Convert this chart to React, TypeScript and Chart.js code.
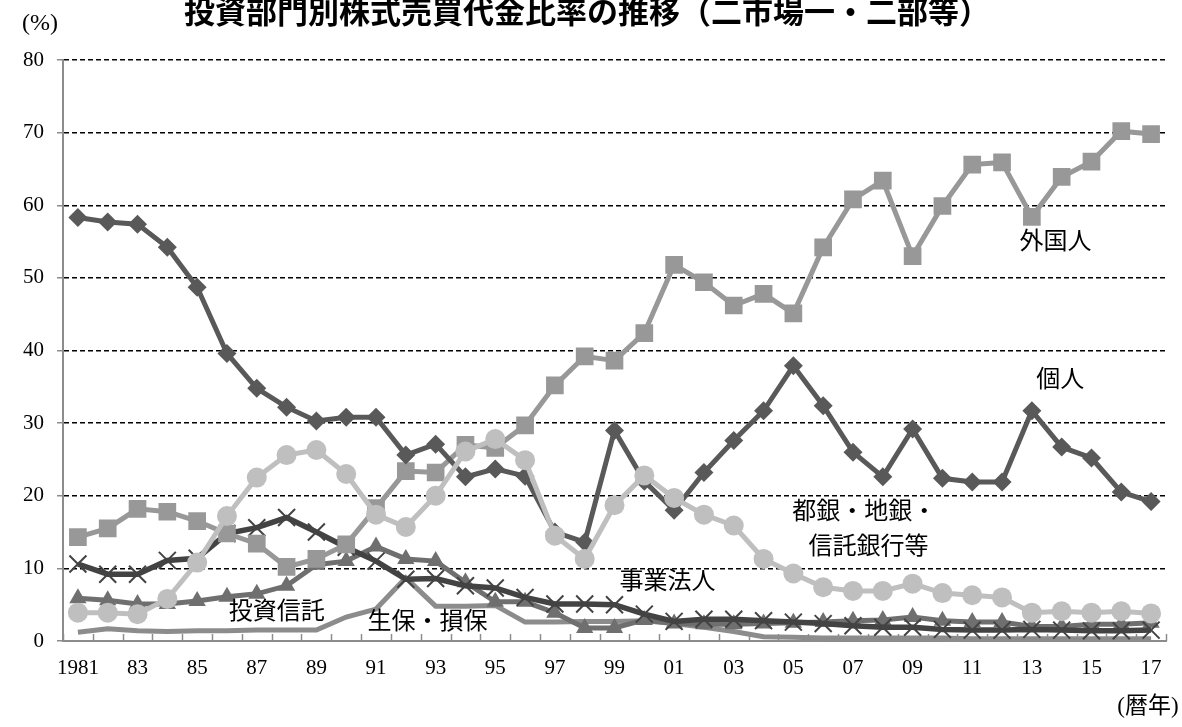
import React, { useEffect, useRef } from 'react';
import { Chart, registerables } from 'chart.js';

Chart.register(...registerables);

// ---- data ----
const categories = ['1981', '82', '83', '84', '85', '86', '87', '88', '89', '90', '91', '92', '93', '94', '95', '96', '97', '98', '99', '00', '01', '02', '03', '04', '05', '06', '07', '08', '09', '10', '11', '12', '13', '14', '15', '16', '17'];

const yTicks = [0, 10, 20, 30, 40, 50, 60, 70, 80];

// 個人
const individuals = [58.3, 57.7, 57.4, 54.2, 48.7, 39.6, 34.8, 32.2, 30.3, 30.8, 30.8, 25.6, 27.1, 22.6, 23.7, 22.7, 15.0, 13.6, 29.0, 22.0, 18.0, 23.2, 27.6, 31.7, 37.9, 32.4, 26.0, 22.6, 29.2, 22.4, 21.9, 21.9, 31.7, 26.7, 25.2, 20.5, 19.2];
// 外国人
const foreigners = [14.3, 15.5, 18.2, 17.8, 16.5, 14.8, 13.4, 10.2, 11.3, 13.3, 18.3, 23.4, 23.2, 27.0, 26.6, 29.7, 35.2, 39.2, 38.6, 42.4, 51.8, 49.4, 46.2, 47.8, 45.1, 54.2, 60.8, 63.4, 53.0, 59.9, 65.6, 65.9, 58.4, 63.9, 66.0, 70.2, 69.8];
// 都銀・地銀・信託銀行等
const banks = [3.9, 3.9, 3.7, 5.8, 10.8, 17.2, 22.5, 25.6, 26.3, 23.0, 17.4, 15.7, 20.0, 26.1, 27.8, 24.9, 14.5, 11.3, 18.7, 22.8, 19.7, 17.4, 15.9, 11.3, 9.3, 7.4, 6.9, 6.9, 7.9, 6.6, 6.3, 6.0, 3.9, 4.1, 3.9, 4.1, 3.8];
// 事業法人
const corporations = [10.6, 9.2, 9.2, 11.1, 11.4, 14.8, 15.6, 17.0, 15.0, 12.9, 11.0, 8.5, 8.6, 7.6, 7.3, 6.0, 5.1, 5.1, 5.0, 3.7, 2.7, 3.0, 3.0, 2.8, 2.6, 2.4, 2.1, 1.9, 1.9, 1.6, 1.5, 1.5, 1.6, 1.5, 1.4, 1.4, 1.5];
// 投資信託
const trusts = [5.9, 5.6, 5.1, 5.1, 5.5, 6.1, 6.5, 7.6, 10.5, 11.0, 13.0, 11.3, 11.0, 8.1, 5.4, 5.4, 3.9, 1.8, 1.8, 2.9, 2.4, 2.3, 2.3, 2.4, 2.5, 2.6, 2.8, 2.9, 3.3, 2.8, 2.6, 2.6, 2.0, 2.0, 2.3, 2.3, 2.5];
// 生保・損保
const insurers = [1.2, 1.7, 1.4, 1.3, 1.4, 1.4, 1.5, 1.5, 1.5, 3.3, 4.4, 8.7, 4.8, 4.8, 4.9, 2.6, 2.6, 2.7, 2.7, 2.8, 2.4, 1.9, 1.3, 0.6, 0.5, 0.4, 0.4, 0.4, 0.4, 0.4, 0.3, 0.3, 0.3, 0.3, 0.3, 0.3, 0.3];

// in-chart labels, anchored in data space: [category index, value]
const seriesLabels = [
  { text: '外国人', at: [32.79, 54.8] },
  { text: '個人', at: [32.95, 35.8] },
  { text: '都銀・地銀・', at: [26.38, 17.6] },
  { text: '信託銀行等', at: [26.52, 12.9] },
  { text: '事業法人', at: [19.78, 8.0] },
  { text: '投資信託', at: [6.67, 3.85] },
  { text: '生保・損保', at: [11.73, 2.5] },
];

const titleText = '投資部門別株式売買代金比率の推移（二市場一・二部等）';
const yUnitText = '(%)';
const xUnitText = '(暦年)';

const SERIF = '"Liberation Serif", "Noto Sans CJK JP", serif';

const decorPlugin = {
  id: 'decor',
  beforeDatasetsDraw(chart: any) {
    const { ctx, scales } = chart;
    const x = scales.x;
    const bottom = chart.chartArea.bottom;
    const half = (x.getPixelForValue(1) - x.getPixelForValue(0)) / 2;
    ctx.save();
    ctx.strokeStyle = '#8c8c8c';
    ctx.lineWidth = 1.5;
    for (let i = 0; i <= categories.length; i++) {
      const px = Math.round(x.getPixelForValue(i) - half) + 0.5;
      ctx.beginPath();
      ctx.moveTo(px, bottom);
      ctx.lineTo(px, bottom - 7);
      ctx.stroke();
    }
    ctx.restore();
  },
  afterDraw(chart: any) {
    const { ctx, scales } = chart;
    ctx.save();
    ctx.fillStyle = '#000';
    ctx.textAlign = 'center';
    ctx.textBaseline = 'middle';
    ctx.font = '24px ' + SERIF;
    for (const l of seriesLabels) {
      ctx.fillText(l.text, scales.x.getPixelForValue(l.at[0]), scales.y.getPixelForValue(l.at[1]));
    }
    ctx.font = 'bold 31px "Noto Sans CJK JP", sans-serif';
    ctx.fillText(titleText, chart.width / 2 - 4, 11);
    ctx.font = '24px ' + SERIF;
    ctx.fillText(yUnitText, 40, 24);
    ctx.font = '23px ' + SERIF;
    ctx.fillText(xUnitText, 1148, 707);
    ctx.restore();
  },
};

export default function App() {
  const ref = useRef<HTMLCanvasElement>(null);
  useEffect(() => {
    if (!ref.current) return;
    const common = { tension: 0, pointHoverRadius: 0, fill: false };
    const chart = new Chart(ref.current, {
      type: 'line',
      data: {
        labels: categories,
        datasets: [
          { ...common, label: '都銀・地銀・信託銀行等', data: banks, borderColor: '#bfbfbf', backgroundColor: '#bfbfbf', pointBackgroundColor: '#bfbfbf', pointBorderColor: '#bfbfbf', borderWidth: 5, pointStyle: 'circle', pointRadius: 10, pointBorderWidth: 0, order: 0 },
          { ...common, label: '個人', data: individuals, borderColor: '#595959', backgroundColor: '#595959', pointBackgroundColor: '#595959', pointBorderColor: '#595959', borderWidth: 5, pointStyle: 'rectRot', pointRadius: 9.5, pointBorderWidth: 0, order: 1 },
          { ...common, label: '外国人', data: foreigners, borderColor: '#989898', backgroundColor: '#989898', pointBackgroundColor: '#989898', pointBorderColor: '#989898', borderWidth: 5, pointStyle: 'rect', pointRadius: 12.5, pointBorderWidth: 0, order: 2 },
          { ...common, label: '事業法人', data: corporations, borderColor: '#434343', backgroundColor: '#434343', pointBackgroundColor: '#434343', pointBorderColor: '#434343', borderWidth: 5.5, pointStyle: 'crossRot', pointRadius: 12, pointBorderWidth: 2, order: 3 },
          { ...common, label: '投資信託', data: trusts, borderColor: '#6f6f6f', backgroundColor: '#6f6f6f', pointBackgroundColor: '#6f6f6f', pointBorderColor: '#6f6f6f', borderWidth: 5, pointStyle: 'triangle', pointRadius: 10, pointBorderWidth: 0, order: 4 },
          { ...common, label: '生保・損保', data: insurers, borderColor: '#8c8c8c', backgroundColor: '#8c8c8c', borderWidth: 5, pointRadius: 0, order: 5 },
        ],
      },
      options: {
        responsive: false,
        maintainAspectRatio: false,
        devicePixelRatio: 1,
        animation: false,
        events: [],
        layout: { padding: { left: 0, right: 16, top: 60, bottom: 0 } },
        plugins: { legend: { display: false }, tooltip: { enabled: false }, title: { display: false } },
        scales: {
          x: {
            type: 'category',
            offset: true,
            grid: { display: true, drawOnChartArea: false, drawTicks: false },
            border: { display: true, color: '#8c8c8c', width: 2 },
            ticks: {
              autoSkip: false,
              maxRotation: 0,
              padding: 15,
              color: '#000',
              font: { family: SERIF, size: 21 },
              callback: (_v: any, i: number) => (i % 2 === 0 ? categories[i] : ''),
            },
            afterFit: (s: any) => { s.height = 86; },
          },
          y: {
            min: 0,
            max: 80,
            afterBuildTicks: (s: any) => { s.ticks = yTicks.map((v) => ({ value: v })); },
            ticks: { padding: 13, color: '#000', font: { family: SERIF, size: 21 } },
            grid: {
              color: (c: any) => (c.tick && c.tick.value === 0 ? 'rgba(0,0,0,0)' : '#000'),
              lineWidth: 1.5,
              tickLength: 6,
              tickColor: '#8c8c8c',
              tickWidth: 1.5,
            },
            border: { display: true, color: '#8c8c8c', width: 2, dash: [5, 3] },
            afterFit: (s: any) => { s.width = 63; },
          },
        },
      },
      plugins: [decorPlugin],
    } as any);
    return () => chart.destroy();
  }, []);
  return (
    <div style={{ position: 'absolute', left: 0, top: 0, width: 1182, height: 727, background: '#fff' }}>
      <canvas ref={ref} width={1182} height={727} style={{ display: 'block', width: 1182, height: 727 }} />
    </div>
  );
}
